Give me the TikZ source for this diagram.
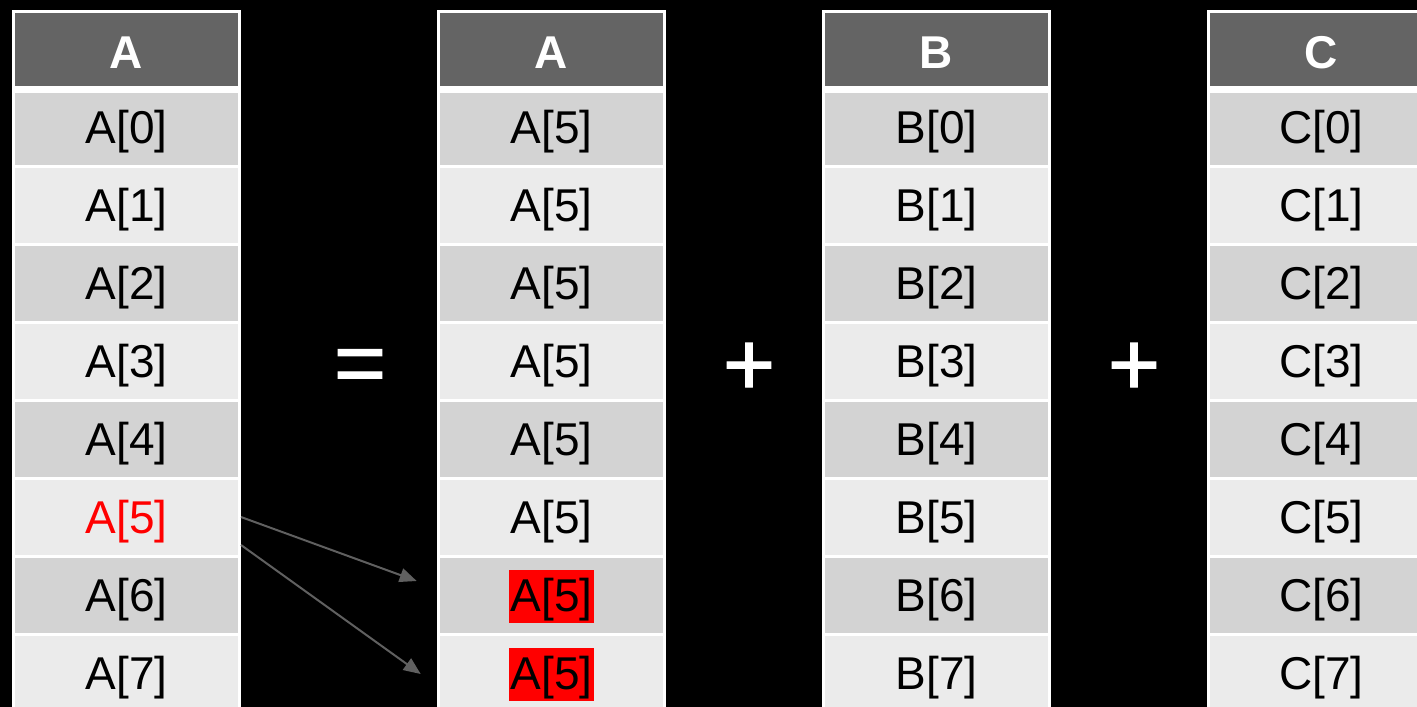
\documentclass[tikz,border=0pt]{standalone}
\usepackage{fontspec}
\setmainfont{Liberation Sans}
\newfontfamily\opfont[FakeBold=1.2]{Liberation Sans}
\usetikzlibrary{arrows.meta,calc}
\definecolor{hdr}{HTML}{646464}
\definecolor{rowd}{HTML}{D3D3D3}
\definecolor{rowl}{HTML}{EBEBEB}
\definecolor{arr}{HTML}{606060}
\newcommand\hlbox[1]{{\setlength\fboxsep{0pt}\colorbox{red}{\hspace{2pt}\rule[-11.8pt]{0pt}{53.3pt}#1\hspace{2pt}}}}
\begin{document}
\begin{tikzpicture}[x=1pt,y=-1pt,
  cell/.style={draw=white, line width=3pt, minimum width=226pt, minimum height=78pt,
    inner sep=0pt, text height=33pt, text depth=0pt,
    font=\fontsize{46}{50}\selectfont, text=black},
  hdrcell/.style={cell, fill=hdr, minimum height=76.5pt, text=white, text height=36.5pt,
    font=\fontsize{46}{50}\selectfont\bfseries},
  op/.style={text=white, draw=none, font=\opfont\fontsize{90}{100}\selectfont, inner sep=0pt},
  link/.style={draw=arr, line width=2pt, -{Triangle[length=17pt,width=14pt]}}]
\useasboundingbox (0,0) rectangle (1417,707);
\fill[black] (0,0) rectangle (1417,707);
\clip (0,0) rectangle (1417,707);
% column A (left)
\node[hdrcell] (ha) at (126.5,49.75) {A};
\foreach \i in {0,2,4,6} \node[cell, fill=rowd] (a\i) at (126.5,{127+78*\i}) {A[\i]};
\foreach \i in {1,3,7} \node[cell, fill=rowl] (a\i) at (126.5,{127+78*\i}) {A[\i]};
\node[cell, fill=rowl, text=red] (a5) at (126.5,{127+78*5}) {A[5]};
% column A (copy)
\node[hdrcell] (hd) at (551.5,49.75) {A};
\foreach \i in {0,2,4} \node[cell, fill=rowd] (d\i) at (551.5,{127+78*\i}) {A[5]};
\foreach \i in {1,3,5} \node[cell, fill=rowl] (d\i) at (551.5,{127+78*\i}) {A[5]};
\node[cell, fill=rowd] (d6) at (551.5,{127+78*6}) {\hlbox{A[5]}};
\node[cell, fill=rowl] (d7) at (551.5,{127+78*7}) {\hlbox{A[5]}};
% column B
\node[hdrcell] (hb) at (936.5,49.75) {B};
\foreach \i in {0,2,4,6} \node[cell, fill=rowd] (b\i) at (936.5,{127+78*\i}) {B[\i]};
\foreach \i in {1,3,5,7} \node[cell, fill=rowl] (b\i) at (936.5,{127+78*\i}) {B[\i]};
% column C
\node[hdrcell] (hc) at (1321.5,49.75) {C};
\foreach \i in {0,2,4,6} \node[cell, fill=rowd] (c\i) at (1321.5,{127+78*\i}) {C[\i]};
\foreach \i in {1,3,5,7} \node[cell, fill=rowl] (c\i) at (1321.5,{127+78*\i}) {C[\i]};
% header separators
\foreach \h in {ha,hd,hb,hc}
  \draw[white, line width=7pt] (\h.south west) -- (\h.south east);
% operators
\node[op] (eq) at (360,371.5) {=};
\node[op] (p1) at (749,369) {+};
\node[op] (p2) at (1134,369) {+};
% arrows
\coordinate (s2) at ($(a5.east)+(0,28)$);
\coordinate (e1) at (416.7,581);
\coordinate (e2) at (420.7,674);
\draw[link] (a5.east) -- (e1);
\draw[link] (s2) -- (e2);
\end{tikzpicture}
\end{document}
